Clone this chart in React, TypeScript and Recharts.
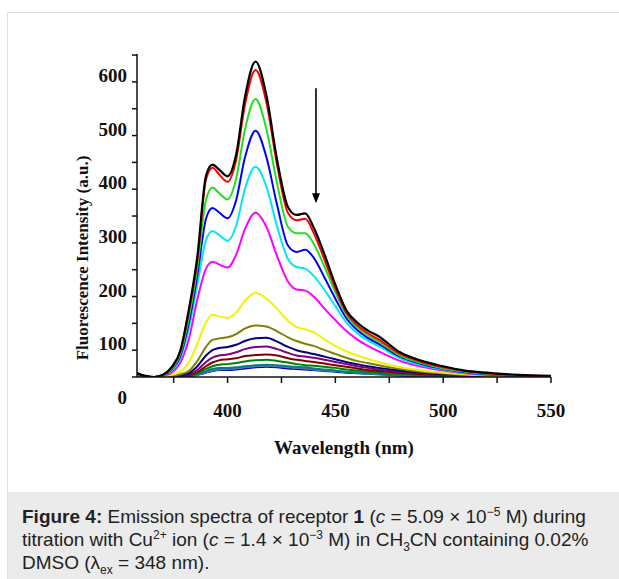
import React from 'react';
import { LineChart, Line, XAxis, YAxis, ReferenceLine, ReferenceDot } from 'recharts';

// emission wavelengths (nm)
const wavelengths = [358, 362, 366, 370, 374, 378, 382, 386, 390, 393, 396, 400, 404, 408, 413, 418, 423, 428, 432, 436, 440, 445, 450, 455, 460, 465, 470, 480, 490, 500, 510, 520, 535, 550];

// intensity, one array per titration step (top to bottom)
const black = [57, 52, 50, 54, 68, 98, 175, 275, 425, 446, 437, 424, 465, 570, 638, 575, 454, 367, 352, 355, 328, 278, 222, 175, 152, 137, 126, 96, 80, 70, 62, 58, 54, 52];
const red = [56, 51, 50, 54, 67, 96, 170, 268, 418, 440, 428, 414, 455, 556, 622, 562, 444, 356, 342, 345, 318, 268, 215, 170, 147, 132, 120, 93, 78, 68, 61, 57, 53, 51];
const green = [56, 51, 50, 53, 65, 92, 160, 255, 380, 403, 393, 381, 420, 510, 568, 512, 410, 330, 318, 318, 298, 255, 208, 166, 143, 128, 116, 90, 76, 66, 60, 56, 53, 51];
const blue = [56, 51, 50, 53, 64, 88, 150, 240, 345, 365, 357, 346, 380, 458, 509, 460, 370, 295, 283, 287, 272, 235, 196, 160, 138, 123, 112, 88, 74, 65, 59, 55, 52, 51];
const cyan = [55, 51, 50, 53, 62, 84, 140, 222, 305, 322, 315, 304, 332, 400, 442, 405, 330, 270, 255, 252, 238, 212, 182, 152, 132, 118, 108, 85, 72, 64, 58, 55, 52, 51];
const magenta = [55, 50, 50, 52, 58, 76, 120, 195, 252, 265, 260, 254, 278, 325, 356, 330, 275, 228, 213, 211, 200, 177, 156, 136, 120, 108, 98, 80, 69, 62, 57, 54, 52, 51];
const yellow = [54, 50, 50, 51, 54, 60, 76, 112, 152, 166, 163, 160, 170, 192, 207, 196, 177, 155, 143, 139, 133, 120, 108, 98, 90, 84, 78, 68, 62, 58, 55, 53, 52, 51];
const olive = [54, 50, 50, 50, 52, 55, 61, 80, 106, 119, 122, 124, 130, 140, 146, 144, 135, 124, 117, 112, 108, 100, 93, 86, 80, 76, 72, 65, 60, 57, 54, 53, 52, 51];
const navy = [57, 51, 50, 50, 51, 53, 57, 70, 90, 100, 104, 106, 110, 117, 122, 123, 116, 106, 100, 96, 93, 88, 83, 78, 74, 70, 67, 62, 58, 56, 54, 52, 51, 50];
const purple = [55, 50, 50, 50, 50, 52, 55, 63, 78, 86, 90, 92, 96, 102, 106, 107, 102, 95, 90, 88, 86, 82, 78, 74, 70, 67, 64, 60, 57, 55, 53, 52, 51, 50];
const darkRed = [55, 50, 50, 50, 50, 51, 53, 59, 70, 77, 81, 83, 85, 89, 91, 92, 90, 85, 82, 80, 78, 75, 72, 69, 66, 63, 61, 58, 55, 54, 52, 51, 51, 50];
const darkGreen = [56, 50, 50, 50, 50, 51, 52, 57, 65, 70, 73, 74, 76, 79, 81, 82, 80, 77, 74, 72, 71, 69, 67, 64, 62, 60, 58, 56, 54, 53, 52, 51, 50, 50];
const teal = [55, 50, 50, 50, 50, 50, 51, 55, 61, 65, 67, 67, 68, 70, 72, 73, 72, 70, 69, 68, 66, 64, 62, 60, 59, 57, 56, 54, 53, 52, 51, 51, 50, 50];
const slate = [56, 51, 50, 50, 50, 50, 51, 54, 59, 62, 64, 65, 66, 68, 70, 71, 70, 68, 67, 66, 64, 62, 61, 59, 58, 56, 55, 54, 52, 52, 51, 50, 50, 50];
const deepBlue = [58, 51, 50, 50, 50, 50, 51, 54, 58, 61, 63, 63, 64, 66, 68, 69, 68, 66, 65, 64, 63, 61, 60, 58, 57, 56, 55, 53, 52, 51, 51, 50, 50, 50];

const series = [black, red, green, blue, cyan, magenta, yellow, olive, navy, purple, darkRed, darkGreen, teal, slate, deepBlue];
const colors = ['#000000', '#ff0000', '#1ee01e', '#0000ff', '#00e8f0', '#ff00ff', '#f2f200', '#808000', '#000080', '#800080', '#800000', '#008000', '#008080', '#5a78b0', '#0000b0'];

const xTicks = [375, 400, 425, 450, 475, 500, 525, 550];
const yTicks = [50, 100, 150, 200, 250, 300, 350, 400, 450, 500, 550, 600, 650];

const data = wavelengths.map((wl, i) => {
  const row: Record<string, number> = { wl };
  series.forEach((s, k) => { row['s' + k] = s[i]; });
  return row;
});

const serif = '"Liberation Serif", "Times New Roman", serif';

function XTick({ x, y, payload }: any) {
  if (payload.value % 50 !== 0) return null;
  return (
    <text x={x} y={y + 34} textAnchor="middle" fontFamily={serif} fontWeight="bold" fontSize={19} fill="#111">
      {payload.value}
    </text>
  );
}

function YTick({ x, y, payload }: any) {
  const v = payload.value;
  if (v === 50) {
    // origin label sits one half-step below the baseline
    return (
      <text x={x} y={y + 27} textAnchor="end" fontFamily={serif} fontWeight="bold" fontSize={19} fill="#111">0</text>
    );
  }
  if (v % 100 !== 0 || v > 600) return null;
  return (
    <text x={x} y={y} textAnchor="end" fontFamily={serif} fontWeight="bold" fontSize={19} fill="#111">
      {v}
    </text>
  );
}

// titles ignore the props recharts passes to labels
const XTitle = () => (
  <text x={344} y={454} textAnchor="middle" fontFamily={serif} fontWeight="bold" fontSize={19} fill="#111">
    Wavelength (nm)
  </text>
);

const YTitle = () => (
  <text x={0} y={0} transform="translate(88 258) rotate(-90)" textAnchor="middle" fontFamily={serif} fontWeight="bold" fontSize={17} fill="#111">
    Fluorescence Intensity (a.u.)
  </text>
);

const ArrowHead = ({ cx, cy }: any) => (
  <path d={`M${cx - 4},${cy - 10} L${cx + 4},${cy - 10} L${cx},${cy} Z`} fill="#000" />
);

const supStyle = { fontSize: 12, lineHeight: 0 };

export default function App() {
  return (
    <div style={{ position: 'absolute', left: 0, top: 0, width: 619, height: 579, background: '#fff', overflow: 'hidden' }}>
      <div style={{ position: 'absolute', left: 7, top: 12, right: 0, bottom: 0, borderLeft: '1px solid #dedede', borderTop: '1px solid #dedede' }} />
      <div style={{ position: 'absolute', left: 0, top: 0 }}>
        <LineChart width={619} height={480} data={data} margin={{ top: 54, right: 68, bottom: 23, left: 57 }}>
          <XAxis
            dataKey="wl"
            type="number"
            domain={[358, 550]}
            ticks={xTicks}
            allowDataOverflow
            tick={<XTick />}
            tickSize={6}
            tickMargin={0}
            height={80}
            stroke="#111"
            strokeWidth={1.5}
            label={<XTitle />}
          />
          <YAxis
            type="number"
            domain={[50, 652]}
            ticks={yTicks}
            allowDataOverflow
            tick={<YTick />}
            tickSize={5}
            tickMargin={5}
            width={80}
            stroke="#111"
            strokeWidth={1.5}
            label={<YTitle />}
          />
          {series.map((_, k) => (
            <Line
              key={k}
              dataKey={'s' + k}
              type="monotone"
              stroke={colors[k]}
              strokeWidth={k === 0 ? 2.2 : 2}
              dot={false}
              isAnimationActive={false}
            />
          )).reverse()}
          <ReferenceLine segment={[{ x: 441, y: 588 }, { x: 441, y: 380 }]} stroke="#000" strokeWidth={1.6} ifOverflow="visible" />
          <ReferenceDot x={441} y={374} r={0} ifOverflow="visible" shape={<ArrowHead />} />
        </LineChart>
      </div>
      <div style={{ position: 'absolute', left: 8, top: 492, width: 611, height: 87, background: '#ebebeb' }}>
        <div style={{ position: 'absolute', left: 14, top: 13, fontFamily: '"Liberation Sans", Arial, sans-serif', fontSize: 19, lineHeight: '23px', color: '#222', whiteSpace: 'nowrap' }}>
          <b>Figure 4:</b> Emission spectra of receptor <b>1</b> (<i>c</i> = 5.09 × 10<sup style={supStyle}>−5</sup> M) during<br />
          titration with Cu<sup style={supStyle}>2+</sup> ion (<i>c</i> = 1.4 × 10<sup style={supStyle}>−3</sup> M) in CH<sub style={supStyle}>3</sub>CN containing 0.02%<br />
          DMSO (λ<sub style={supStyle}>ex</sub> = 348 nm).
        </div>
      </div>
    </div>
  );
}
